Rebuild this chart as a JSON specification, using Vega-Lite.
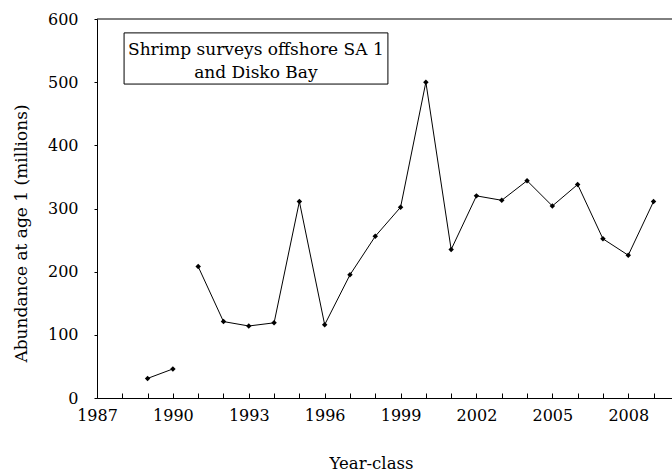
{
  "$schema": "https://vega.github.io/schema/vega-lite/v6.json",
  "autosize": "none",
  "padding": {"left": 97, "top": 19, "right": 0, "bottom": 73},
  "width": 575,
  "height": 379,
  "background": "white",
  "config": {
    "view": {"stroke": null},
    "font": "DejaVu Serif",
    "axis": {
      "labelFont": "DejaVu Serif",
      "titleFont": "DejaVu Serif",
      "labelFontSize": 16,
      "titleFontSize": 16.5,
      "titleFontWeight": "normal",
      "labelColor": "black",
      "titleColor": "black",
      "domainColor": "black",
      "tickColor": "black",
      "grid": false,
      "labelOverlap": false
    }
  },
  "datasets": {
    "abund": [
      {"year": 1989, "value": 31, "seg": "a"},
      {"year": 1990, "value": 46, "seg": "a"},
      {"year": 1991, "value": 208, "seg": "b"},
      {"year": 1992, "value": 121, "seg": "b"},
      {"year": 1993, "value": 114, "seg": "b"},
      {"year": 1994, "value": 119, "seg": "b"},
      {"year": 1995, "value": 311, "seg": "b"},
      {"year": 1996, "value": 116, "seg": "b"},
      {"year": 1997, "value": 195, "seg": "b"},
      {"year": 1998, "value": 256, "seg": "b"},
      {"year": 1999, "value": 302, "seg": "b"},
      {"year": 2000, "value": 500, "seg": "b"},
      {"year": 2001, "value": 235, "seg": "b"},
      {"year": 2002, "value": 320, "seg": "b"},
      {"year": 2003, "value": 313, "seg": "b"},
      {"year": 2004, "value": 344, "seg": "b"},
      {"year": 2005, "value": 304, "seg": "b"},
      {"year": 2006, "value": 338, "seg": "b"},
      {"year": 2007, "value": 252, "seg": "b"},
      {"year": 2008, "value": 226, "seg": "b"},
      {"year": 2009, "value": 311, "seg": "b"}
    ],
    "box": [
      {"x1": 1988.07, "x2": 1998.5, "y1": 497, "y2": 578}
    ],
    "label": [
      {"x": 1993.28, "y": 551, "text": "Shrimp surveys offshore SA 1"},
      {"x": 1993.28, "y": 514, "text": "and Disko Bay"}
    ]
  },
  "layer": [
    {
      "data": {"name": "abund"},
      "mark": {"type": "line", "color": "black", "strokeWidth": 1},
      "encoding": {
        "x": {
          "field": "year",
          "type": "quantitative",
          "scale": {"domain": [1987, 2009.73], "nice": false, "zero": false},
          "axis": {
            "title": "Year-class",
            "values": [1987,1988,1989,1990,1991,1992,1993,1994,1995,1996,1997,1998,1999,2000,2001,2002,2003,2004,2005,2006,2007,2008,2009],
            "tickCount": 40,
            "format": "d",
            "labelExpr": "(datum.value - 1987) % 3 == 0 ? datum.label : ''",
            "tickSize": -5,
            "labelPadding": 14,
            "titlePadding": 32,
            "titleX": 274,
            "titleAlign": "center",
            "labelFlush": false,
            "labelOverlap": false,
            "labelBound": false
          }
        },
        "y": {
          "field": "value",
          "type": "quantitative",
          "scale": {"domain": [0, 600], "nice": false},
          "axis": {
            "title": "Abundance at age 1 (millions)",
            "titleFontSize": 17,
            "values": [0, 100, 200, 300, 400, 500, 600],
            "tickSize": 3,
            "labelPadding": 16,
            "titleX": -76,
            "titleY": 214,
            "titleAngle": 270,
            "titleAlign": "center",
            "titleBaseline": "middle"
          }
        },
        "detail": {"field": "seg"}
      }
    },
    {
      "data": {"name": "abund"},
      "mark": {"type": "point", "shape": "diamond", "filled": true, "color": "black", "opacity": 1, "size": 30},
      "encoding": {
        "x": {"field": "year", "type": "quantitative"},
        "y": {"field": "value", "type": "quantitative"}
      }
    },
    {
      "data": {"values": [{"top": 600}]},
      "mark": {"type": "rule", "color": "black", "strokeWidth": 1},
      "encoding": {"y": {"field": "top", "type": "quantitative"}}
    },
    {
      "data": {"name": "box"},
      "mark": {"type": "rect", "fill": "white", "stroke": "black", "strokeWidth": 1},
      "encoding": {
        "x": {"field": "x1", "type": "quantitative"},
        "x2": {"field": "x2"},
        "y": {"field": "y1", "type": "quantitative"},
        "y2": {"field": "y2"}
      }
    },
    {
      "data": {"name": "label"},
      "mark": {"type": "text", "font": "DejaVu Serif", "fontSize": 17, "color": "black", "align": "center", "baseline": "middle"},
      "encoding": {
        "x": {"field": "x", "type": "quantitative"},
        "y": {"field": "y", "type": "quantitative"},
        "text": {"field": "text"}
      }
    }
  ]
}
